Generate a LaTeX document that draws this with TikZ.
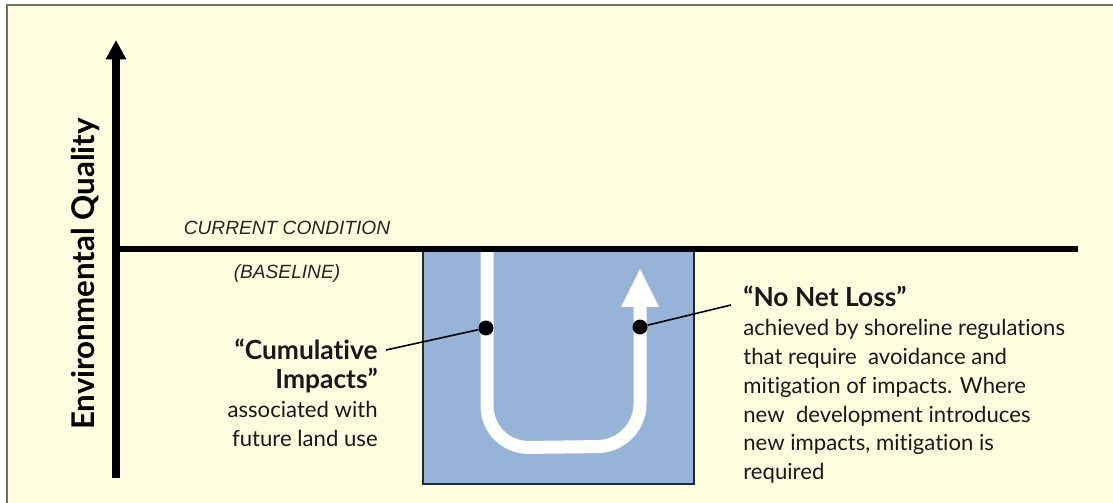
\documentclass[tikz,border=0pt]{standalone}
\usepackage{fontspec}
\usepackage{tikz}
\usetikzlibrary{arrows.meta,positioning}
\setmainfont{Lato}[Ligatures=NoCommon]
\newfontfamily\condfont{Liberation Sans}
\definecolor{PaperColor}{RGB}{255,253,224}
\definecolor{FrameGray}{RGB}{110,110,110}
\definecolor{BoxBlue}{RGB}{152,179,216}
\definecolor{BoxEdge}{RGB}{40,40,40}

\begin{document}
\begin{tikzpicture}[x=0.02cm, y=-0.02cm,
    axis/.style={line width=4pt, -{Triangle[width=11pt, length=11pt]}},
    baseline line/.style={line width=3.8pt},
    condtext/.style={font=\condfont\itshape\fontsize{10.9}{12}\selectfont, text=black!85, inner sep=0pt},
    note/.style={font=\fontsize{12.6}{16.4}\selectfont, text=black!90, inner sep=0pt},
    leader/.style={line width=0.9pt},
    dot/.style={circle, fill=black, inner sep=0pt, minimum size=8.5pt}]
      \useasboundingbox (0,0) rectangle (1113,503);
      \fill[white] (0,0) rectangle (1113,503);
      \draw[FrameGray, line width=1.3pt, fill=PaperColor] (7,5) rectangle (1130,520);
      % impact box and the path through it
      \draw[BoxEdge, line width=1.2pt, fill=BoxBlue] (423,249) rectangle (694,484);
      \draw[white, line width=7.4pt, rounded corners=24] (487,249) -- (487,448) -- (640,446) -- (640,305);
      \fill[white] (621,307) -- (659,307) -- (640,269) -- cycle;
      % axes
      \coordinate (axisbot) at (116,478);
      \coordinate (axistop) at (116,40);
      \coordinate (linestart) at (116,249);
      \coordinate (lineend) at (1078,249);
      \draw[axis] (axisbot) -- (axistop);
      \draw[baseline line] (linestart) -- (lineend);
      \node[rotate=90, font=\bfseries\fontsize{17.8}{20}\selectfont, text=black] (quality) at (86,274) {Environmental Quality};
      \node[condtext] (current) at (287,228) {CURRENT CONDITION};
      \node[condtext] (baseline) at (287,274) {(BASELINE)};
      % labels
      \node[note, anchor=north east, align=right] (cumulative) at (378,339)
        {{\bfseries\fontsize{15}{16.6}\selectfont ``Cumulative}\\
         {\bfseries\fontsize{15}{16.6}\selectfont Impacts''}\\
         associated with\\ future land use};
      \node[note, anchor=north west, align=left] (noloss) at (743,286)
        {{\bfseries\fontsize{15}{16}\selectfont ``No Net Loss''}\\
         achieved by shoreline regulations\\
         that require\ \ avoidance and\\
         mitigation of impacts. Where\\
         new\ \ development introduces\\
         new impacts, mitigation is\\
         required};
      \node[dot] (cumdot) at (486,328) {};
      \node[dot] (lossdot) at (640,327) {};
      \coordinate (cumend) at (386,350);
      \coordinate (lossend) at (731,305);
      \draw[leader] (cumend) -- (cumdot);
      \draw[leader] (lossdot) -- (lossend);
\end{tikzpicture}
\end{document}
